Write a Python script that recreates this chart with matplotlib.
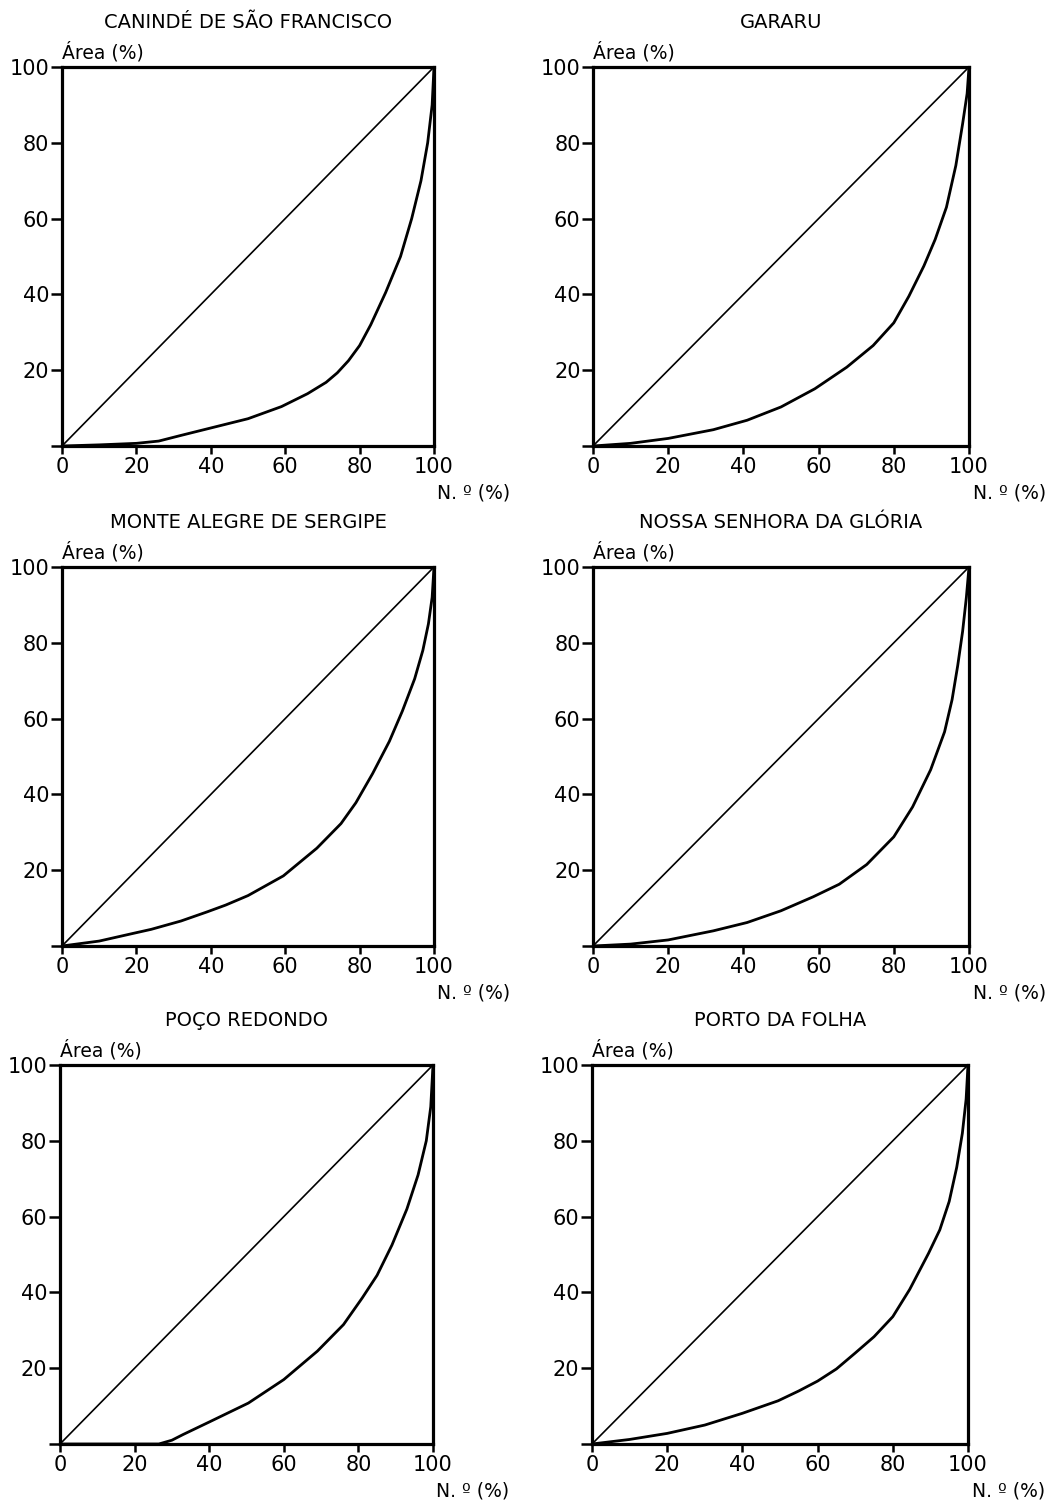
import matplotlib.pyplot as plt

plt.rcParams['font.family'] = ['DejaVu Sans']

municipios = ['CANINDÉ DE SÃO FRANCISCO', 'GARARU',
              'MONTE ALEGRE DE SERGIPE', 'NOSSA SENHORA DA GLÓRIA',
              'POÇO REDONDO', 'PORTO DA FOLHA']

# curvas de Lorenz (N.o % x Area %)
caninde_x = [0, 10, 20, 26, 32, 41, 50, 59, 66, 71, 74, 77, 80, 83, 87, 91, 94, 96.5, 98.3, 99.5, 100]
caninde_y = [0, 0.3, 0.7, 1.3, 2.8, 5, 7.2, 10.4, 13.8, 16.8, 19.3, 22.5, 26.5, 32, 40.5, 50, 60, 70, 80, 90, 100]

gararu_x = [0, 10, 20, 32, 41, 50, 59, 67.5, 74.5, 80, 84, 88, 91, 94, 96.5, 98.3, 99.5, 100]
gararu_y = [0, 0.7, 2, 4.3, 6.8, 10.3, 15.1, 20.8, 26.5, 32.5, 39.5, 47.5, 54.5, 63, 74, 85, 93, 100]

monte_x = [0, 10, 19, 24, 32, 39, 44, 50, 59.5, 68.5, 75, 79, 83.5, 88, 91.5, 94.8, 97, 98.5, 99.5, 100]
monte_y = [0, 1.3, 3.3, 4.4, 6.6, 9, 10.8, 13.3, 18.5, 25.8, 32.3, 37.8, 45.5, 54, 62, 70.5, 78, 85, 92, 100]

gloria_x = [0, 10, 20, 32, 41, 50, 58.6, 65.5, 72.8, 80, 85, 89.8, 93.5, 95.5, 97, 98.3, 99.3, 100]
gloria_y = [0, 0.5, 1.6, 4, 6.2, 9.3, 13, 16.3, 21.5, 28.8, 36.7, 46.5, 56.5, 65, 74, 83, 92, 100]

poco_x = [0, 26.5, 30, 33, 40, 50.5, 60, 69, 76, 81, 85, 89, 93, 96, 98.2, 99.4, 100]
poco_y = [0, 0, 1, 2.5, 5.8, 10.8, 17, 24.5, 31.5, 38.5, 44.5, 52.5, 62, 71, 80, 89, 100]

porto_x = [0, 10, 20, 30, 40, 49.5, 55, 60, 65, 70, 75, 80, 84.5, 89.5, 92.5, 95, 97, 98.5, 99.5, 100]
porto_y = [0, 1.2, 2.8, 5, 8.1, 11.4, 14, 16.6, 19.8, 24, 28.3, 33.6, 40.8, 50.3, 56.5, 64, 73, 82, 91, 100]

curvas = [(caninde_x, caninde_y), (gararu_x, gararu_y), (monte_x, monte_y),
          (gloria_x, gloria_y), (poco_x, poco_y), (porto_x, porto_y)]

yticks = [0, 20, 40, 60, 80, 100]
ylabels = ['', '20', '40', '60', '80', '100']
xticks = [0, 20, 40, 60, 80, 100]

W, H = 1058, 1504
fig = plt.figure(figsize=(W / 100, H / 100), dpi=100)

# caixas em pixels: esquerda, direita, topo, base
caixas = [(62, 434, 67, 446), (593, 969, 67, 446),
          (62, 434, 567, 946), (593, 969, 567, 946),
          (60, 433, 1065, 1444), (592, 968, 1065, 1444)]

for i, (nome, (cx, cy)) in enumerate(zip(municipios, curvas)):
    l, r, t, b = caixas[i]
    ax = fig.add_axes([l / W, 1 - b / H, (r - l) / W, (b - t) / H])
    ax.set_xlim(0, 100)
    ax.set_ylim(0, 100)
    ax.plot([0, 100], [0, 100], color='black', lw=1.2)
    ax.plot(cx, cy, color='black', lw=2.0, solid_joinstyle='round',
            solid_capstyle='round')
    for s in ax.spines.values():
        s.set_linewidth(2.3)
    ax.set_yticks(yticks)
    ax.set_yticklabels(ylabels)
    ax.set_xticks(xticks)
    ax.tick_params(axis='y', direction='out', length=8, width=1.8,
                   labelsize=15, pad=1)
    ax.tick_params(axis='x', direction='out', length=6, width=1.8,
                   labelsize=15, pad=2)
    ax.text(0.5, 1.118, nome, transform=ax.transAxes, ha='center',
            va='center', fontsize=14)
    ax.text(0.0, 1.04, 'Área (%)', transform=ax.transAxes, ha='left',
            va='center', fontsize=13.5)
    ax.text(1.205, -0.125, 'N. º (%)', transform=ax.transAxes, ha='right',
            va='center', fontsize=13.5)

fig.savefig('out.png', dpi=100, facecolor='white')
